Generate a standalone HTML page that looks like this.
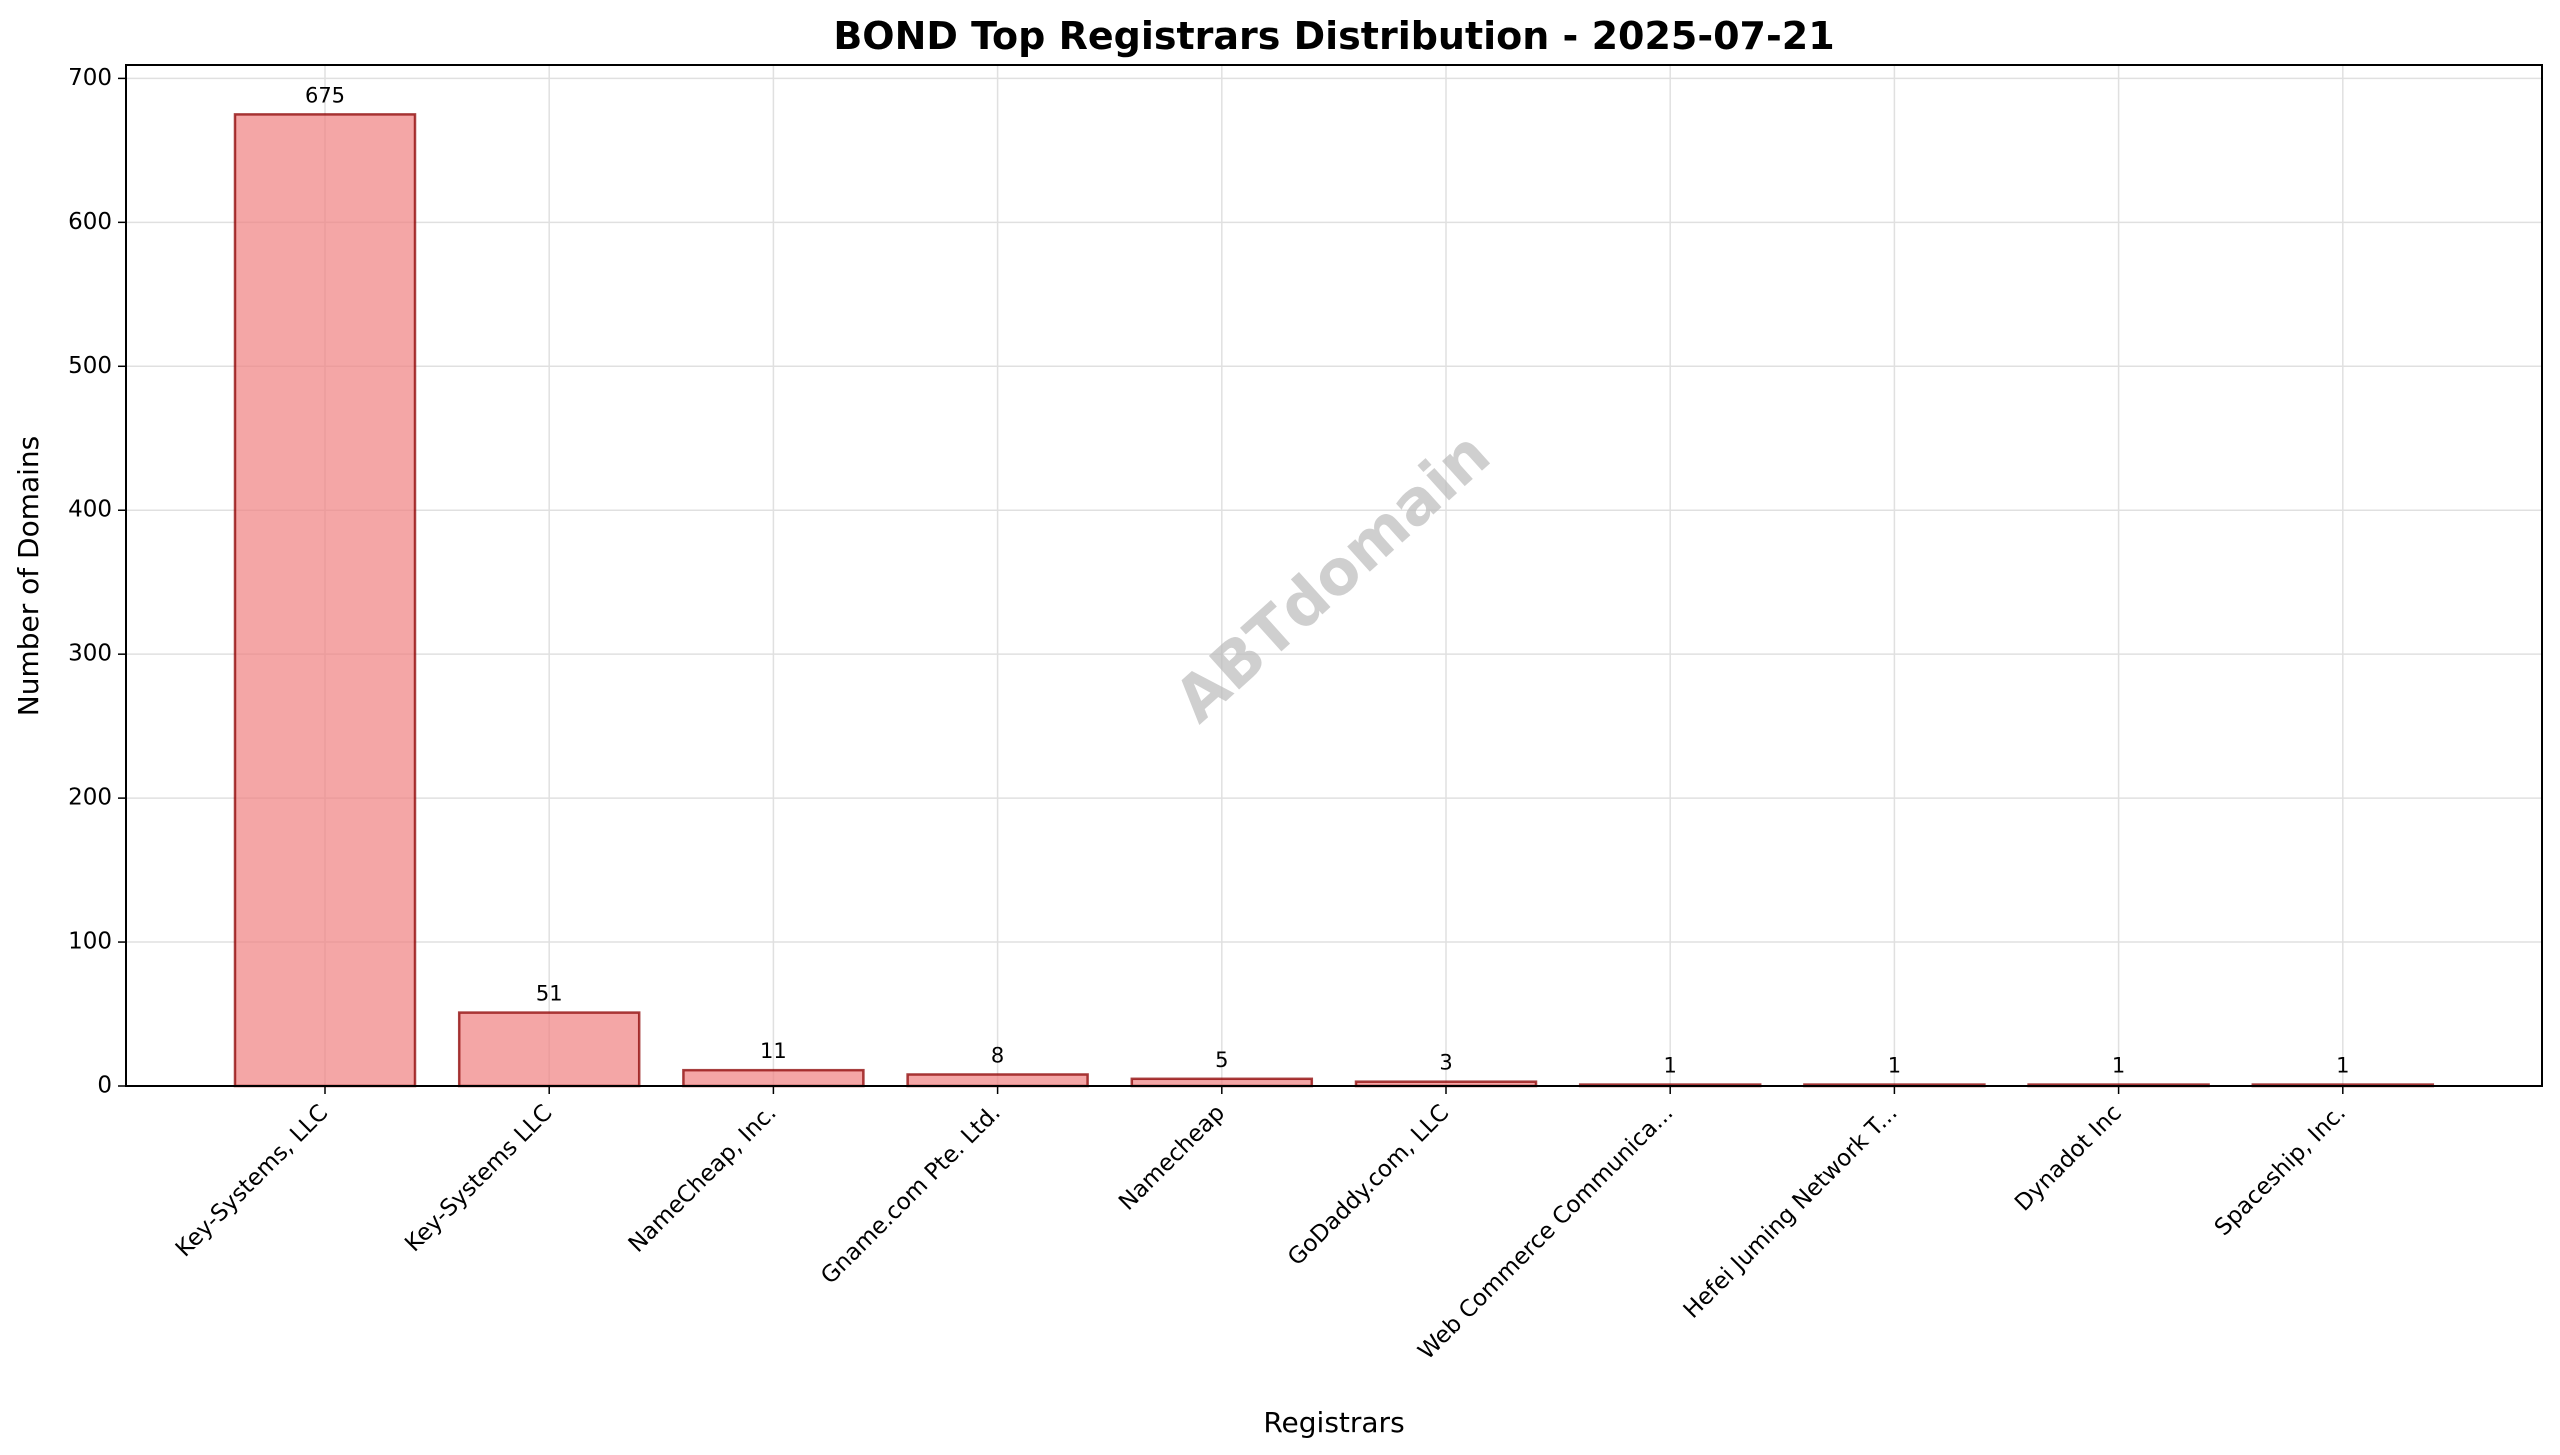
<!DOCTYPE html>
<html><head><meta charset="utf-8"><style>
html,body{margin:0;padding:0;background:#fff}
svg{display:block;font-family:"DejaVu Sans","Liberation Sans",sans-serif}
</style></head><body>
<svg id="chart" width="2560" height="1455" viewBox="0 0 2560 1455">
<rect width="2560" height="1455" fill="#fff"/>
<g id="grid"></g>
<g id="bars"></g>
<g id="axes"></g>
<text x="1335" y="580" font-size="62" font-weight="bold" fill="#bbb" fill-opacity="0.7" text-anchor="middle" dominant-baseline="middle" transform="rotate(-42 1335 580)">ABTdomain</text>
<text x="1334" y="49" font-size="38" font-weight="bold" text-anchor="middle">BOND Top Registrars Distribution - 2025-07-21</text>
<text x="1334" y="1432" font-size="28" text-anchor="middle">Registrars</text>
<text x="38" y="576" font-size="28" text-anchor="middle" transform="rotate(-90 38 576)">Number of Domains</text>
</svg>
<script>
const categories=["Key-Systems, LLC","Key-Systems LLC","NameCheap, Inc.","Gname.com Pte. Ltd.","Namecheap","GoDaddy.com, LLC","Web Commerce Communica...","Hefei Juming Network T...","Dynadot Inc","Spaceship, Inc."];
const values=[675,51,11,8,5,3,1,1,1,1];
const yTicks=[0,100,200,300,400,500,600,700];
const NS="http://www.w3.org/2000/svg";
const L=126,R=2542,T=65,B=1086;
const yScale=v=>B-v*(B-78.4)/700;
const step=224.2, x0=325;
const xScale=i=>x0+i*step;
const bw=180;
const grid=document.getElementById('grid'),bars=document.getElementById('bars'),axes=document.getElementById('axes');
function mk(tag,attrs,parent){const e=document.createElementNS(NS,tag);for(const k in attrs)e.setAttribute(k,attrs[k]);parent.appendChild(e);return e;}
yTicks.forEach(t=>{
 const y=yScale(t);
 const g=mk('line',{x1:L,x2:R,y1:y,y2:y,stroke:'#e0e0e0','stroke-width':1.5},grid);
 
 
 const tk=mk('line',{x1:L-8,x2:L,y1:y,y2:y,stroke:'#000','stroke-width':1.5},axes);
 
 
 const lb=mk('text',{x:L-14,y:y,'font-size':23,'text-anchor':'end','dominant-baseline':'middle'},axes);
 lb.textContent=t;
 
 
});
categories.forEach((c,i)=>{
 const x=xScale(i);
 const g=mk('line',{x1:x,x2:x,y1:T,y2:B,stroke:'#e0e0e0','stroke-width':1.5},grid);
 
 
 const y=yScale(values[i]);
 const r=mk('rect',{x:x-bw/2,y:y,width:bw,height:Math.max(B-y,0),fill:'#f08080','fill-opacity':0.7,stroke:'#8b0000','stroke-opacity':0.75,'stroke-width':2.5},bars);
 
 
 const v=mk('text',{x:x,y:y-12,'font-size':21,'text-anchor':'middle'},bars);
 v.textContent=values[i];
 
 
 const tk=mk('line',{x1:x,x2:x,y1:B,y2:B+8,stroke:'#000','stroke-width':1.5},axes);
 
 
 const lb=mk('text',{x:x+4,y:B+28,'font-size':23,'text-anchor':'end',transform:`rotate(-45 ${x+4} ${B+28})`},axes);
 lb.textContent=c;
 
 
});
const fr=mk('rect',{x:L,y:T,width:R-L,height:B-T,fill:'none',stroke:'#000','stroke-width':2},axes);


</script>
</body></html>
